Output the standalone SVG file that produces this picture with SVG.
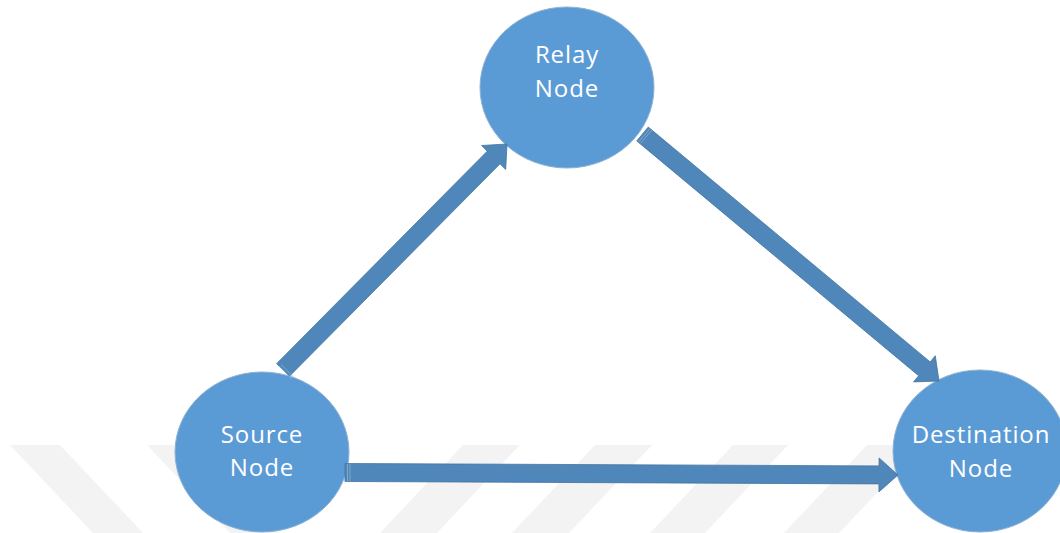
<svg xmlns="http://www.w3.org/2000/svg" width="1060" height="533" viewBox="0 0 1060 533">
  <style>
    .band { fill: #f3f3f3; }
    .node { fill: #5b9bd5; stroke: #8fb2d4; stroke-width: 1; }
    .label { font-family: "Open Sans", "Noto Sans", sans-serif; font-size: 24px; fill: #ffffff; text-anchor: middle; letter-spacing: 0.9px; }
    .arrow { fill: #4f87ba; stroke: #42739f; stroke-width: 0.8; stroke-linejoin: miter; }
    .tail { stroke: #8cb0d2; stroke-width: 0.8; fill: none; }
  </style>

  <rect width="1060" height="533" fill="#ffffff"/>

  <!-- faint diagonal background bands -->
  <g id="background-bands">
    <polygon class="band" points="10,445 60,445 143,533 93,533"/>
    <polygon class="band" points="147,445 197,445 280,533 230,533"/>
    <polygon class="band" points="463,445 520,445 437,533 380,533"/>
    <polygon class="band" points="595,445 652,445 569,533 512,533"/>
    <polygon class="band" points="733,445 788,445 705,533 650,533"/>
    <polygon class="band" points="867,445 922,445 839,533 784,533"/>
  </g>

  <g id="relay-node">
    <ellipse class="node" cx="567" cy="87.5" rx="87" ry="80.5"/>
    <text class="label" x="567" y="63">Relay</text>
    <text class="label" x="567" y="97">Node</text>
  </g>

  <g id="source-node">
    <ellipse class="node" cx="262" cy="452" rx="87" ry="80"/>
    <text class="label" x="262" y="443">Source</text>
    <text class="label" x="262" y="476">Node</text>
  </g>

  <g id="destination-node">
    <ellipse class="node" cx="980" cy="451" rx="87" ry="81"/>
    <text class="label" x="981" y="443">Destination</text>
    <text class="label" x="981" y="477">Node</text>
  </g>

  <g id="connectors">
    <!-- source to relay -->
    <polygon class="arrow" points="289.39,376.34 500.01,163.83 505.69,169.46 507,144 481.55,145.52 487.23,151.15 276.61,363.66"/>
    <line class="tail" x1="279.1" y1="366.2" x2="291.8" y2="378.8"/>
    <line class="tail" x1="280.9" y1="364.4" x2="293.6" y2="377.0"/>
    <!-- relay to destination -->
    <polygon class="arrow" points="636.74,140.91 918.65,375.75 913.53,381.90 939,381 935.29,355.78 930.17,361.93 648.26,127.09"/>
    <line class="tail" x1="638.6" y1="141.8" x2="650.1" y2="128.6"/>
    <line class="tail" x1="640.5" y1="143.3" x2="652.0" y2="130.1"/>
    <!-- source to destination -->
    <polygon class="arrow" points="344.96,481.5 878.96,483.91 878.92,491.91 898,475 879.08,457.91 879.04,465.91 345.04,463.5"/>
    <line class="tail" x1="347.5" y1="463.7" x2="347.5" y2="481.5"/>
    <line class="tail" x1="350" y1="463.7" x2="350" y2="481.5"/>
  </g>
</svg>
